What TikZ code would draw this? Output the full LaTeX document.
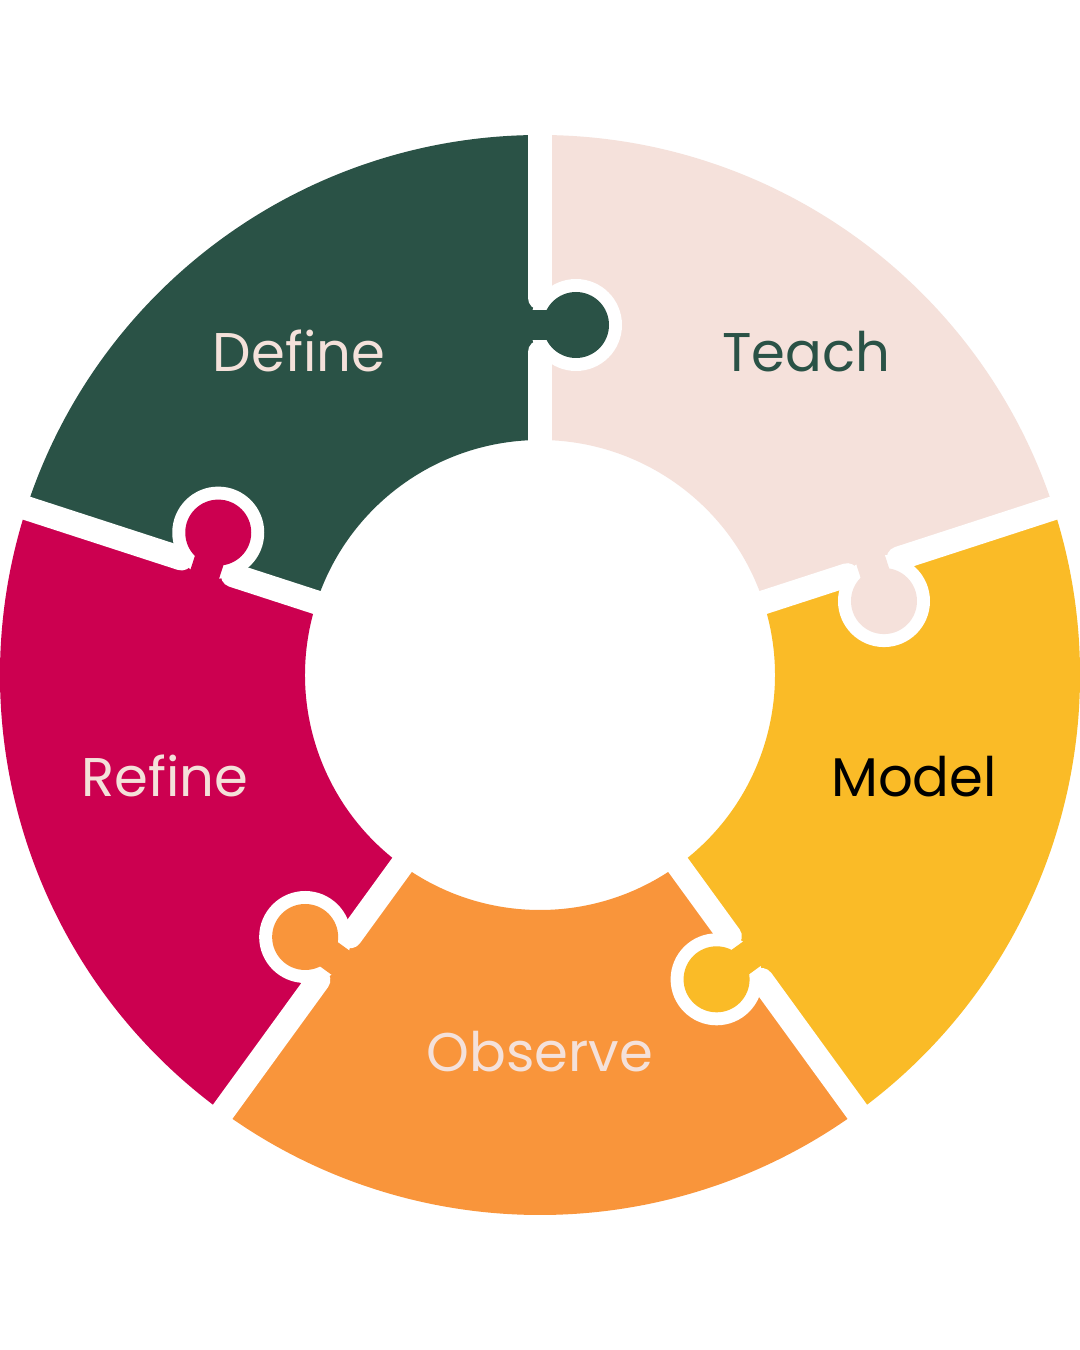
\documentclass[tikz,border=0pt]{standalone}
\usepackage{fontspec}
\setmainfont{Poppins}
\usepackage{xcolor}
\usetikzlibrary{calc}
\definecolor{defgreen}{HTML}{2A5246}
\definecolor{teachpink}{HTML}{F5E1DB}
\definecolor{modelyellow}{HTML}{FABB27}
\definecolor{obsorange}{HTML}{F9953B}
\definecolor{refcrimson}{HTML}{CC0050}
\definecolor{lighttext}{HTML}{F4E1DA}
\tikzset{
  gap/.style  = {draw=white, line width=0.24cm, line cap=round},
  ring/.style = {fill=white},
  neck/.style = {line width=0.30cm},
  lbl/.style  = {font=\fontsize{15.5}{16}\selectfont, anchor=base, inner sep=0pt},
}

\begin{document}
\begin{tikzpicture}
\fill[white] (0,0) rectangle (10.8,13.5);
\useasboundingbox (0,0) rectangle (10.8,13.5);

\begin{scope}[shift={(5.4,6.75)}]
% --- pieces ---
\fill[defgreen] (90:2.35) -- (90:5.4) arc[start angle=90, end angle=162, radius=5.4]
     -- (162:2.35) arc[start angle=162, end angle=90, radius=2.35] -- cycle;
\fill[refcrimson] (162:2.35) -- (162:5.4) arc[start angle=162, end angle=234, radius=5.4]
     -- (234:2.35) arc[start angle=234, end angle=162, radius=2.35] -- cycle;
\fill[obsorange] (234:2.35) -- (234:5.4) arc[start angle=234, end angle=306, radius=5.4]
     -- (306:2.35) arc[start angle=306, end angle=234, radius=2.35] -- cycle;
\fill[modelyellow] (-54:2.35) -- (-54:5.4) arc[start angle=-54, end angle=18, radius=5.4]
     -- (18:2.35) arc[start angle=18, end angle=-54, radius=2.35] -- cycle;
\fill[teachpink] (18:2.35) -- (18:5.4) arc[start angle=18, end angle=90, radius=5.4]
     -- (90:2.35) arc[start angle=90, end angle=18, radius=2.35] -- cycle;

% --- tab centres ---
\coordinate (tabdef)   at ([shift={(0:0.36)}]90:3.5);
\coordinate (tabteach) at ([shift={(-72:0.36)}]18:3.5);
\coordinate (tabmodel) at ([shift={(-144:0.36)}]-54:3.5);
\coordinate (tabobs)   at ([shift={(144:0.36)}]-126:3.5);
\coordinate (tabref)   at ([shift={(72:0.36)}]162:3.5);

% --- white rings round the tabs ---
\fill[ring] (tabdef) circle[radius=0.46];
\fill[ring] (tabteach) circle[radius=0.46];
\fill[ring] (tabmodel) circle[radius=0.46];
\fill[ring] (tabobs) circle[radius=0.46];
\fill[ring] (tabref) circle[radius=0.46];

% --- gaps between pieces ---
\draw[gap] (90:2.2) -- (90:3.23) (90:3.77) -- (90:5.6);
\draw[gap] (18:2.2) -- (18:3.23) (18:3.77) -- (18:5.6);
\draw[gap] (-54:2.2) -- (-54:3.23) (-54:3.77) -- (-54:5.6);
\draw[gap] (-126:2.2) -- (-126:3.23) (-126:3.77) -- (-126:5.6);
\draw[gap] (162:2.2) -- (162:3.23) (162:3.77) -- (162:5.6);

% --- tabs ---
\draw[neck, defgreen] ([shift={(180:0.15)}]90:3.5) -- (tabdef);
\fill[defgreen] (tabdef) circle[radius=0.33];
\draw[neck, teachpink] ([shift={(108:0.15)}]18:3.5) -- (tabteach);
\fill[teachpink] (tabteach) circle[radius=0.33];
\draw[neck, modelyellow] ([shift={(36:0.15)}]-54:3.5) -- (tabmodel);
\fill[modelyellow] (tabmodel) circle[radius=0.33];
\draw[neck, obsorange] ([shift={(-36:0.15)}]-126:3.5) -- (tabobs);
\fill[obsorange] (tabobs) circle[radius=0.33];
\draw[neck, refcrimson] ([shift={(252:0.15)}]162:3.5) -- (tabref);
\fill[refcrimson] (tabref) circle[radius=0.33];
\end{scope}

% --- labels ---
\node[lbl, text=lighttext] (define) at (2.99,9.78) {Define};
\node[lbl, text=defgreen] (teach) at (8.06,9.78) {Teach};
\node[lbl, text=black] (model) at (9.14,5.53) {Model};
\node[lbl, text=lighttext] (observe) at (5.40,2.79) {Observe};
\node[lbl, text=lighttext] (refine) at (1.65,5.53) {Refine};
\end{tikzpicture}
\end{document}
